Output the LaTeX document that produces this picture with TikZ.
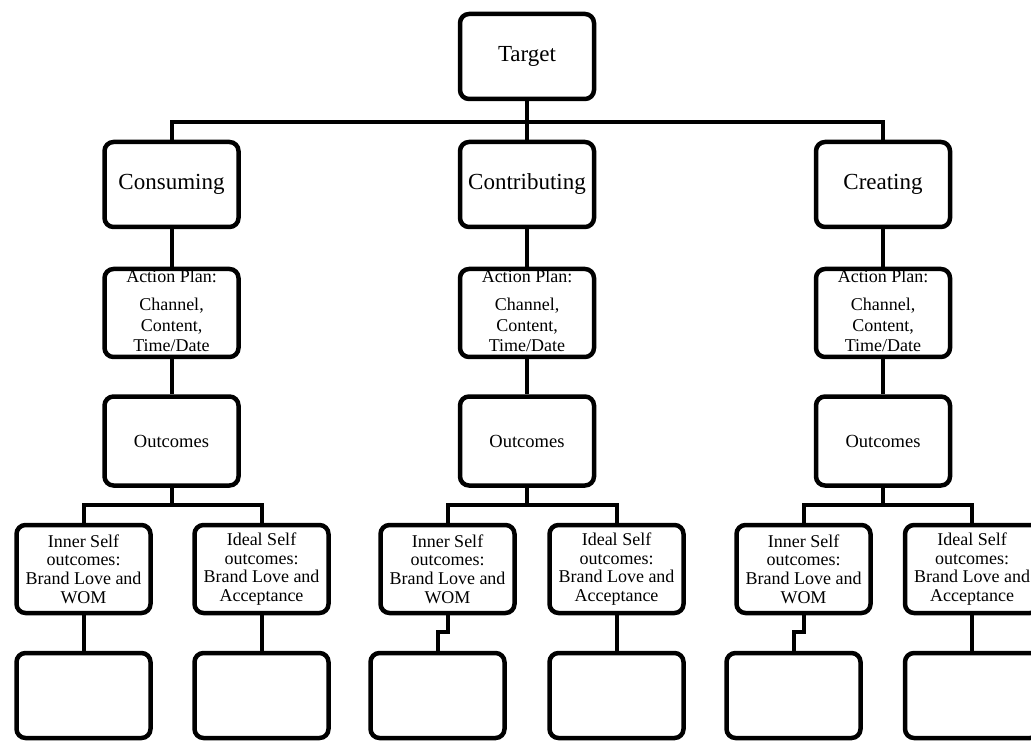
\documentclass[tikz,border=0pt]{standalone}
\usepackage{fontspec}
\setmainfont{Liberation Serif}
\begin{document}
\begin{tikzpicture}[x=1pt,y=-1pt,
  box/.style={draw, line width=4.5pt, rounded corners=9pt, minimum width=134pt,
    align=center, inner sep=0pt},
  topbox/.style={box, minimum height=85pt, font=\fontsize{23}{27}\selectfont},
  planbox/.style={box, minimum height=88pt},
  plantext/.style={align=center, inner sep=0pt, font=\fontsize{18}{20.5}\selectfont},
  outbox/.style={box, minimum height=89pt, font=\fontsize{18.5}{21}\selectfont},
  selfbox/.style={box, minimum height=88pt, font=\fontsize{18}{18.7}\selectfont},
  blank/.style={box, minimum height=85pt},
  link/.style={line width=4pt}
]
\useasboundingbox (0,0) rectangle (1031,743);
\clip (0,0) rectangle (1031,743);

% top level
\node[topbox] (target) at (527,56.5) {Target};
\node[topbox] (cons) at (171.5,184.5) {Consuming};
\node[topbox] (contr) at (527,184.5) {Contributing};
\node[topbox] (creat) at (883,184.5) {Creating};

% action plans: frame and text set separately so the text sits a little high
\node[planbox] (plan1) at (171.5,313) {};
\node[planbox] (plan2) at (527,313) {};
\node[planbox] (plan3) at (883,313) {};
\node[plantext] (plan1t) at (171.5,311) {Action Plan:\\[8pt]Channel,\\Content,\\Time/Date};
\node[plantext] (plan2t) at (527,311) {Action Plan:\\[8pt]Channel,\\Content,\\Time/Date};
\node[plantext] (plan3t) at (883,311) {Action Plan:\\[8pt]Channel,\\Content,\\Time/Date};

% outcomes
\node[outbox] (out1) at (171.5,441) {Outcomes};
\node[outbox] (out2) at (527,441) {Outcomes};
\node[outbox] (out3) at (883,441) {Outcomes};

% self outcomes
\node[selfbox] (in1) at (83.5,569) {Inner Self\\outcomes:\\Brand Love and\\WOM};
\node[selfbox] (id1) at (261.5,569) {Ideal Self\\outcomes:\\Brand Love and\\Acceptance};
\node[selfbox] (in2) at (447.5,569) {Inner Self\\outcomes:\\Brand Love and\\WOM};
\node[selfbox] (id2) at (616.5,569) {Ideal Self\\outcomes:\\Brand Love and\\Acceptance};
\node[selfbox] (in3) at (803.5,569) {Inner Self\\outcomes:\\Brand Love and\\WOM};
\node[selfbox] (id3) at (972,569) {Ideal Self\\outcomes:\\Brand Love and\\Acceptance};

% empty result boxes
\node[blank] (r1a) at (83.5,695.5) {};
\node[blank] (r1b) at (261.5,695.5) {};
\node[blank] (r2a) at (437.5,695.5) {};
\node[blank] (r2b) at (616.5,695.5) {};
\node[blank] (r3a) at (793.5,695.5) {};
\node[blank] (r3b) at (972,695.5) {};

% connectors
\coordinate (bus) at (527,122);
\draw[link] (target) -- (contr);
\draw[link] (cons.north) |- (bus) -| (creat.north);

\draw[link] (cons) -- (plan1);
\draw[link] (contr) -- (plan2);
\draw[link] (creat) -- (plan3);
\draw[link] (plan1) -- (out1);
\draw[link] (plan2) -- (out2);
\draw[link] (plan3) -- (out3);

\draw[link] (out1.south) -- ++(0,17) coordinate (b1);
\draw[link] (in1.north) |- (b1) -| (id1.north);
\draw[link] (out2.south) -- ++(0,17) coordinate (b2);
\draw[link] (in2.north) |- (b2) -| (id2.north);
\draw[link] (out3.south) -- ++(0,17) coordinate (b3);
\draw[link] (in3.north) |- (b3) -| (id3.north);

\draw[link] (in1) -- (r1a);
\draw[link] (id1) -- (r1b);
\draw[link] (in2.south) -- ++(0,17) -| (r2a.north);
\draw[link] (id2) -- (r2b);
\draw[link] (in3.south) -- ++(0,17) -| (r3a.north);
\draw[link] (id3) -- (r3b);
\end{tikzpicture}
\end{document}
